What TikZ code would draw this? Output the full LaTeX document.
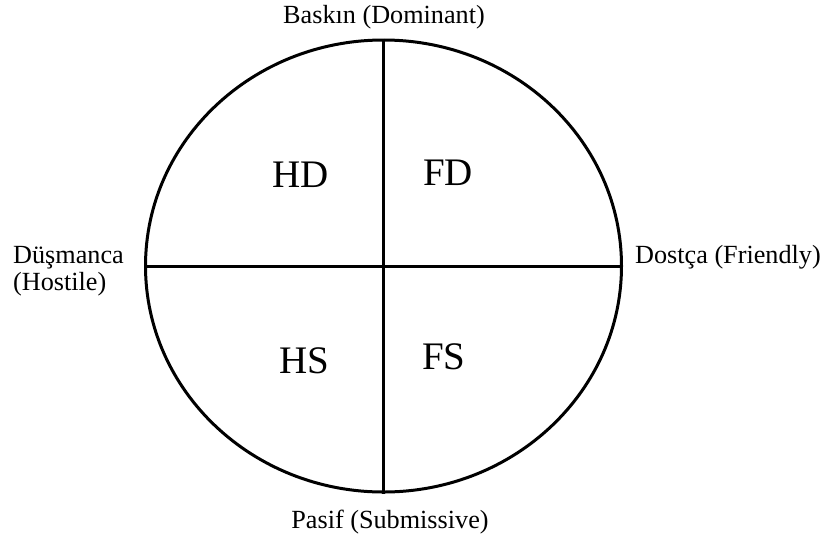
\documentclass[tikz,border=0pt]{standalone}
\usepackage{fontspec}
\setmainfont{Liberation Serif}
\usetikzlibrary{shapes.geometric}
\begin{document}
\begin{tikzpicture}[x=1pt,y=-1pt,
  lbl/.style={font=\fontsize{26.2}{27}\selectfont, inner sep=0pt, anchor=base},
  quad/.style={font=\fontsize{39}{40}\selectfont, inner sep=0pt, anchor=base},
  axis/.style={line width=3pt}]
\useasboundingbox (0,0) rectangle (827,539);
\node[ellipse, draw, line width=3pt, minimum width=476pt, minimum height=452pt, inner sep=0pt] (c) at (383.5,266) {};
\draw[axis] (c.north) -- (c.south);
\draw[axis] (c.west) -- (c.east);
\node[lbl] (top) at (384,23) {Baskın (Dominant)};
\node[lbl] (bot) at (390,528) {Pasif (Submissive)};
\node[lbl, anchor=base west] (right) at (635,263) {Dostça (Friendly)};
\node[lbl, anchor=base west, align=left] (left) at (13,290) {Düşmanca\\(Hostile)};
\node[quad] (hd) at (301,187) {HD};
\node[quad] (fd) at (448,185) {FD};
\node[quad] (hs) at (304,373) {HS};
\node[quad] (fs) at (444,369) {FS};
\end{tikzpicture}
\end{document}
